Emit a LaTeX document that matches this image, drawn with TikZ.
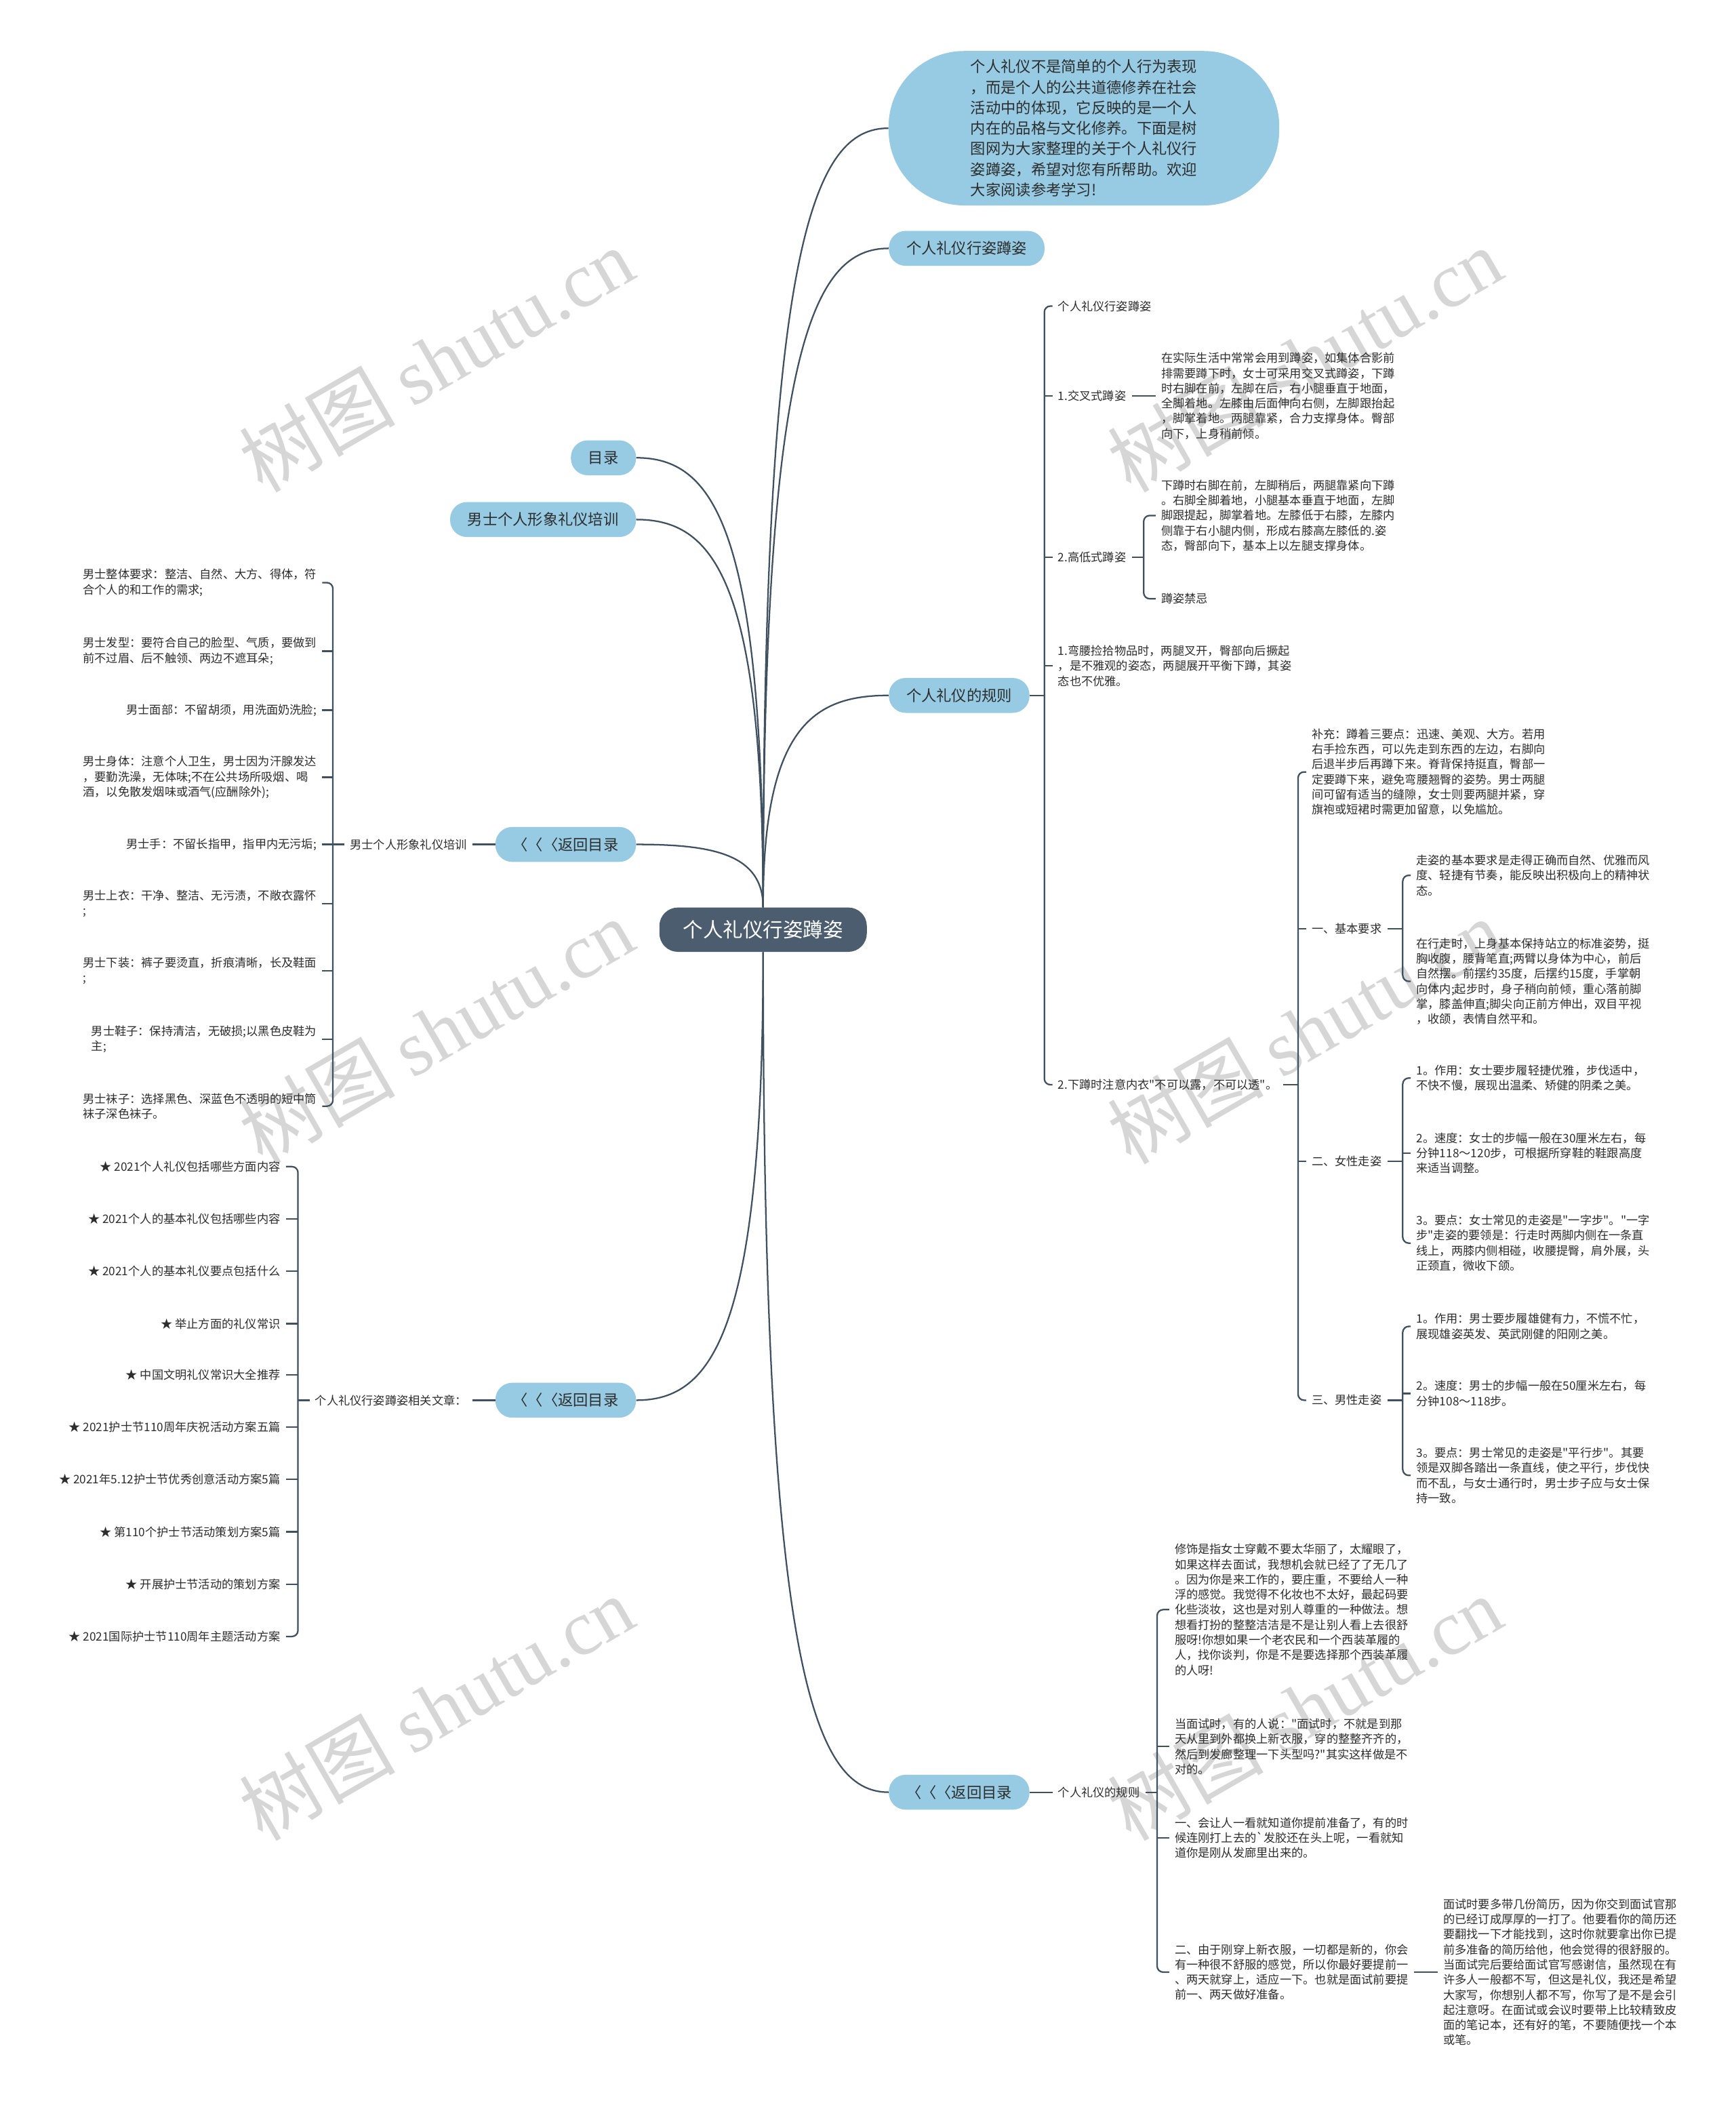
\documentclass[tikz,border=0pt]{standalone}
\usepackage{fontspec}
\newfontfamily\cjk{Noto Sans CJK SC}
\newfontfamily\wmfont{Liberation Serif}
\usetikzlibrary{calc}
\definecolor{skyfill}{RGB}{150,203,227}
\definecolor{hubfill}{RGB}{75,93,110}
\definecolor{wire}{RGB}{63,80,96}
\definecolor{ink}{RGB}{45,45,45}
\definecolor{wmgrey}{RGB}{214,214,214}

\begin{document}
\begin{tikzpicture}[
        x=0.04cm, y=-0.04cm,
        hub/.style={fill=hubfill, text=white, rounded corners=0.55cm,
                    minimum height=1.32cm, inner xsep=0.7cm,
                    font=\cjk\fontsize{17}{20}\selectfont},
        bub/.style={fill=skyfill, text=ink, rounded corners=0.5cm,
                    minimum height=1.04cm, inner xsep=0.52cm,
                    font=\cjk\fontsize{12.8}{17.4}\selectfont},
        txt/.style={text=ink, align=left, inner xsep=0.16cm, inner ysep=1pt,
                    font=\cjk\fontsize{9.9}{12.8}\selectfont},
        link/.style={draw=wire, line width=1.3pt},
        fork/.style={link, rounded corners=0.18cm},
        branch/.style={to path={.. controls ($(\tikztostart)!0.85!(\tikztostart|-\tikztotarget)$)
                       and ($(\tikztotarget)!0.6!(\tikztotarget-|\tikztostart)$) .. (\tikztotarget)}},
        wm/.style={text=wmgrey, rotate=30, font=\cjk\fontsize{66}{70}\selectfont}
    ]
        \path[use as bounding box, fill=white] (0,0) rectangle (1293,1568);

        \node[wm] (wm1) at (325,268) {树图 {\wmfont shutu.cn}};
        \node[wm] (wm2) at (972,268) {树图 {\wmfont shutu.cn}};
        \node[wm] (wm3) at (325,768) {树图 {\wmfont shutu.cn}};
        \node[wm] (wm4) at (972,768) {树图 {\wmfont shutu.cn}};
        \node[wm] (wm5) at (325,1272) {树图 {\wmfont shutu.cn}};
        \node[wm] (wm6) at (972,1272) {树图 {\wmfont shutu.cn}};

        \node[hub] (root) at (568.5,692.5) {个人礼仪行姿蹲姿};
        \node[bub, align=left, minimum width=11.64cm, minimum height=4.6cm,
              rounded corners=2.25cm] (intro) at (807.5,95.5)
              {个人礼仪不是简单的个人行为表现\\，而是个人的公共道德修养在社会\\活动中的体现，它反映的是一个人\\内在的品格与文化修养。下面是树\\图网为大家整理的关于个人礼仪行\\姿蹲姿，希望对您有所帮助。欢迎\\大家阅读参考学习!};
        \node[bub, anchor=west] (walk) at (662,185) {个人礼仪行姿蹲姿};
        \node[bub, anchor=west] (rules) at (662,518) {个人礼仪的规则};
        \node[bub, anchor=west] (back3) at (662,1335) {〈〈〈返回目录};
        \node[bub, anchor=east] (toc) at (474,341) {目录};
        \node[bub, anchor=east] (men) at (474,387) {男士个人形象礼仪培训};
        \node[bub, anchor=east] (back1) at (474,629) {〈〈〈返回目录};
        \node[bub, anchor=east] (back2) at (474,1043) {〈〈〈返回目录};

        \draw[link] (root.north) to[branch] (intro.west);
        \draw[link] (root.north) to[branch] (walk.west);
        \draw[link] (root.north) to[branch] (rules.west);
        \draw[link] (root.north) to[branch] (toc.east);
        \draw[link] (root.north) to[branch] (men.east);
        \draw[link] (root.north) to[branch] (back1.east);
        \draw[link] (root.south) to[branch] (back2.east);
        \draw[link] (root.south) to[branch] (back3.west);

        \node[txt, anchor=west] (squat) at (784,228) {个人礼仪行姿蹲姿};
        \node[txt, anchor=west] (cross) at (784,295) {1.交叉式蹲姿};
        \node[txt, anchor=west] (highlow) at (784,415) {2.高低式蹲姿};
        \node[txt, anchor=west] (bend) at (784,496) {1.弯腰捡拾物品时，两腿叉开，臀部向后撅起\\，是不雅观的姿态，两腿展开平衡下蹲，其姿\\态也不优雅。};
        \node[txt, anchor=west] (under) at (784,808) {2.下蹲时注意内衣"不可以露，不可以透"。};
        \coordinate (kr) at (778,518);
        \draw[fork] (squat.west) -| (kr) |- (under.west);
        \draw[link] (rules.east) -- (kr);
        \foreach \n in {cross,highlow,bend} \draw[link] (\n.west) -- (\n.west -| kr);

        \node[txt, anchor=west] (crosstx) at (861,295) {在实际生活中常常会用到蹲姿，如集体合影前\\排需要蹲下时，女士可采用交叉式蹲姿，下蹲\\时右脚在前，左脚在后，右小腿垂直于地面，\\全脚着地。左膝由后面伸向右侧，左脚跟抬起\\，脚掌着地。两腿靠紧，合力支撑身体。臀部\\向下，上身稍前倾。};
        \draw[link] (cross.east) -- (crosstx.west);

        \node[txt, anchor=west] (hltx) at (861,384) {下蹲时右脚在前，左脚稍后，两腿靠紧向下蹲\\。右脚全脚着地，小腿基本垂直于地面，左脚\\脚跟提起，脚掌着地。左膝低于右膝，左膝内\\侧靠于右小腿内侧，形成右膝高左膝低的.姿\\态，臀部向下，基本上以左腿支撑身体。};
        \node[txt, anchor=west] (taboo) at (861,446) {蹲姿禁忌};
        \coordinate (khl) at (852,415);
        \draw[fork] (hltx.west) -| (khl) |- (taboo.west);
        \draw[link] (highlow.east) -- (khl);

        \node[txt, anchor=west] (tips) at (973,575) {补充：蹲着三要点：迅速、美观、大方。若用\\右手捡东西，可以先走到东西的左边，右脚向\\后退半步后再蹲下来。脊背保持挺直，臀部一\\定要蹲下来，避免弯腰翘臀的姿势。男士两腿\\间可留有适当的缝隙，女士则要两腿并紧，穿\\旗袍或短裙时需更加留意，以免尴尬。};
        \node[txt, anchor=west] (basic) at (973,692) {一、基本要求};
        \node[txt, anchor=west] (female) at (973,865) {二、女性走姿};
        \node[txt, anchor=west] (male) at (973,1043) {三、男性走姿};
        \coordinate (ku) at (967,808);
        \draw[fork] (tips.west) -| (ku) |- (male.west);
        \draw[link] (under.east) -- (ku);
        \foreach \n in {basic,female} \draw[link] (\n.west) -- (\n.west -| ku);

        \node[txt, anchor=west] (basic1) at (1051,652) {走姿的基本要求是走得正确而自然、优雅而风\\度、轻捷有节奏，能反映出积极向上的精神状\\态。};
        \node[txt, anchor=west] (basic2) at (1051,731) {在行走时，上身基本保持站立的标准姿势，挺\\胸收腹，腰背笔直;两臂以身体为中心，前后\\自然摆。前摆约35度，后摆约15度，手掌朝\\向体内;起步时，身子稍向前倾，重心落前脚\\掌，膝盖伸直;脚尖向正前方伸出，双目平视\\，收颌，表情自然平和。};
        \coordinate (kb) at (1045,692);
        \draw[fork] (basic1.west) -| (kb) |- (basic2.west);
        \draw[link] (basic.east) -- (kb);

        \node[txt, anchor=west] (fem1) at (1051,803) {1。作用：女士要步履轻捷优雅，步伐适中，\\不快不慢，展现出温柔、矫健的阴柔之美。};
        \node[txt, anchor=west] (fem2) at (1051,859) {2。速度：女士的步幅一般在30厘米左右，每\\分钟118～120步，可根据所穿鞋的鞋跟高度\\来适当调整。};
        \node[txt, anchor=west] (fem3) at (1051,926) {3。要点：女士常见的走姿是"一字步"。"一字\\步"走姿的要领是：行走时两脚内侧在一条直\\线上，两膝内侧相碰，收腰提臀，肩外展，头\\正颈直，微收下颌。};
        \coordinate (kf) at (1045,865);
        \draw[fork] (fem1.west) -| (kf) |- (fem3.west);
        \draw[link] (female.east) -- (kf);
        \draw[link] (fem2.west) -- (fem2.west -| kf);

        \node[txt, anchor=west] (mal1) at (1051,988) {1。作用：男士要步履雄健有力，不慌不忙，\\展现雄姿英发、英武刚健的阳刚之美。};
        \node[txt, anchor=west] (mal2) at (1051,1038) {2。速度：男士的步幅一般在50厘米左右，每\\分钟108～118步。};
        \node[txt, anchor=west] (mal3) at (1051,1099) {3。要点：男士常见的走姿是"平行步"。其要\\领是双脚各踏出一条直线，使之平行，步伐快\\而不乱，与女士通行时，男士步子应与女士保\\持一致。};
        \coordinate (km) at (1045,1043);
        \draw[fork] (mal1.west) -| (km) |- (mal3.west);
        \draw[link] (male.east) -- (km);
        \draw[link] (mal2.west) -- (mal2.west -| km);

        \node[txt, anchor=west] (rules2) at (784,1335) {个人礼仪的规则};
        \draw[link] (back3.east) -- (rules2.west);
        \node[txt, anchor=west] (dress) at (871,1199) {修饰是指女士穿戴不要太华丽了，太耀眼了，\\如果这样去面试，我想机会就已经了了无几了\\。因为你是来工作的，要庄重，不要给人一种\\浮的感觉。我觉得不化妆也不太好，最起码要\\化些淡妆，这也是对别人尊重的一种做法。想\\想看打扮的整整洁洁是不是让别人看上去很舒\\服呀!你想如果一个老农民和一个西装革履的\\人，找你谈判，你是不是要选择那个西装革履\\的人呀!};
        \node[txt, anchor=west] (hair) at (871,1301) {当面试时，有的人说："面试时，不就是到那\\天从里到外都换上新衣服，穿的整整齐齐的，\\然后到发廊整理一下头型吗?"其实这样做是不\\对的。};
        \node[txt, anchor=west] (ready) at (871,1369) {一、会让人一看就知道你提前准备了，有的时\\候连刚打上去的\symbol{96}发胶还在头上呢，一看就知\\道你是刚从发廊里出来的。};
        \node[txt, anchor=west] (newc) at (871,1469) {二、由于刚穿上新衣服，一切都是新的，你会\\有一种很不舒服的感觉，所以你最好要提前一\\、两天就穿上，适应一下。也就是面试前要提\\前一、两天做好准备。};
        \node[txt, anchor=west] (resume) at (1071,1469) {面试时要多带几份简历，因为你交到面试官那\\的已经订成厚厚的一打了。他要看你的简历还\\要翻找一下才能找到，这时你就要拿出你已提\\前多准备的简历给他，他会觉得的很舒服的。\\当面试完后要给面试官写感谢信，虽然现在有\\许多人一般都不写，但这是礼仪，我还是希望\\大家写，你想别人都不写，你写了是不是会引\\起注意呀。在面试或会议时要带上比较精致皮\\面的笔记本，还有好的笔，不要随便找一个本\\或笔。};
        \coordinate (kd) at (862,1335);
        \draw[fork] (dress.west) -| (kd) |- (newc.west);
        \draw[link] (rules2.east) -- (kd);
        \foreach \n in {hair,ready} \draw[link] (\n.west) -- (\n.west -| kd);
        \draw[link] (newc.east) -- (resume.west);

        \node[txt, anchor=east] (men2) at (352,629) {男士个人形象礼仪培训};
        \draw[link] (back1.west) -- (men2.east);
        \node[txt, anchor=east] (whole) at (240,434) {男士整体要求：整洁、自然、大方、得体，符\\合个人的和工作的需求;};
        \node[txt, anchor=east] (hairm) at (240,485) {男士发型：要符合自己的脸型、气质，要做到\\前不过眉、后不触领、两边不遮耳朵;};
        \node[txt, anchor=east] (face) at (240,529) {男士面部：不留胡须，用洗面奶洗脸;};
        \node[txt, anchor=east] (body) at (240,579) {男士身体：注意个人卫生，男士因为汗腺发达\\，要勤洗澡，无体味;不在公共场所吸烟、喝\\酒，以免散发烟味或酒气(应酬除外);};
        \node[txt, anchor=east] (hand) at (240,629) {男士手：不留长指甲，指甲内无污垢;};
        \node[txt, anchor=east] (coat) at (240,673) {男士上衣：干净、整洁、无污渍，不敞衣露怀\\;};
        \node[txt, anchor=east] (pants) at (240,723) {男士下装：裤子要烫直，折痕清晰，长及鞋面\\;};
        \node[txt, anchor=east] (shoes) at (240,774) {男士鞋子：保持清洁，无破损;以黑色皮鞋为\\主;};
        \node[txt, anchor=east] (socks) at (240,824) {男士袜子：选择黑色、深蓝色不透明的短中筒\\袜子深色袜子。};
        \coordinate (kl) at (248,629);
        \draw[fork] (whole.east) -| (kl) |- (socks.east);
        \draw[link] (men2.west) -- (kl);
        \foreach \n in {hairm,face,body,hand,coat,pants,shoes} \draw[link] (\n.east) -- (\n.east -| kl);

        \node[txt, anchor=east] (rel) at (352,1043) {个人礼仪行姿蹲姿相关文章：};
        \draw[link] (back2.west) -- (rel.east);
        \foreach \i/\y/\t in {1/869/{★ 2021个人礼仪包括哪些方面内容},
                              2/908/{★ 2021个人的基本礼仪包括哪些内容},
                              3/947/{★ 2021个人的基本礼仪要点包括什么},
                              4/986/{★ 举止方面的礼仪常识},
                              5/1024/{★ 中国文明礼仪常识大全推荐},
                              6/1063/{★ 2021护士节110周年庆祝活动方案五篇},
                              7/1102/{★ 2021年5.12护士节优秀创意活动方案5篇},
                              8/1141/{★ 第110个护士节活动策划方案5篇},
                              9/1180/{★ 开展护士节活动的策划方案},
                              10/1219/{★ 2021国际护士节110周年主题活动方案}}
            \node[txt, anchor=east] (s\i) at (213,\y) {\t};
        \coordinate (ks) at (222,1043);
        \draw[fork] (s1.east) -| (ks) |- (s10.east);
        \draw[link] (rel.west) -- (ks);
        \foreach \i in {2,...,9} \draw[link] (s\i.east) -- (s\i.east -| ks);
    \end{tikzpicture}
\end{document}
